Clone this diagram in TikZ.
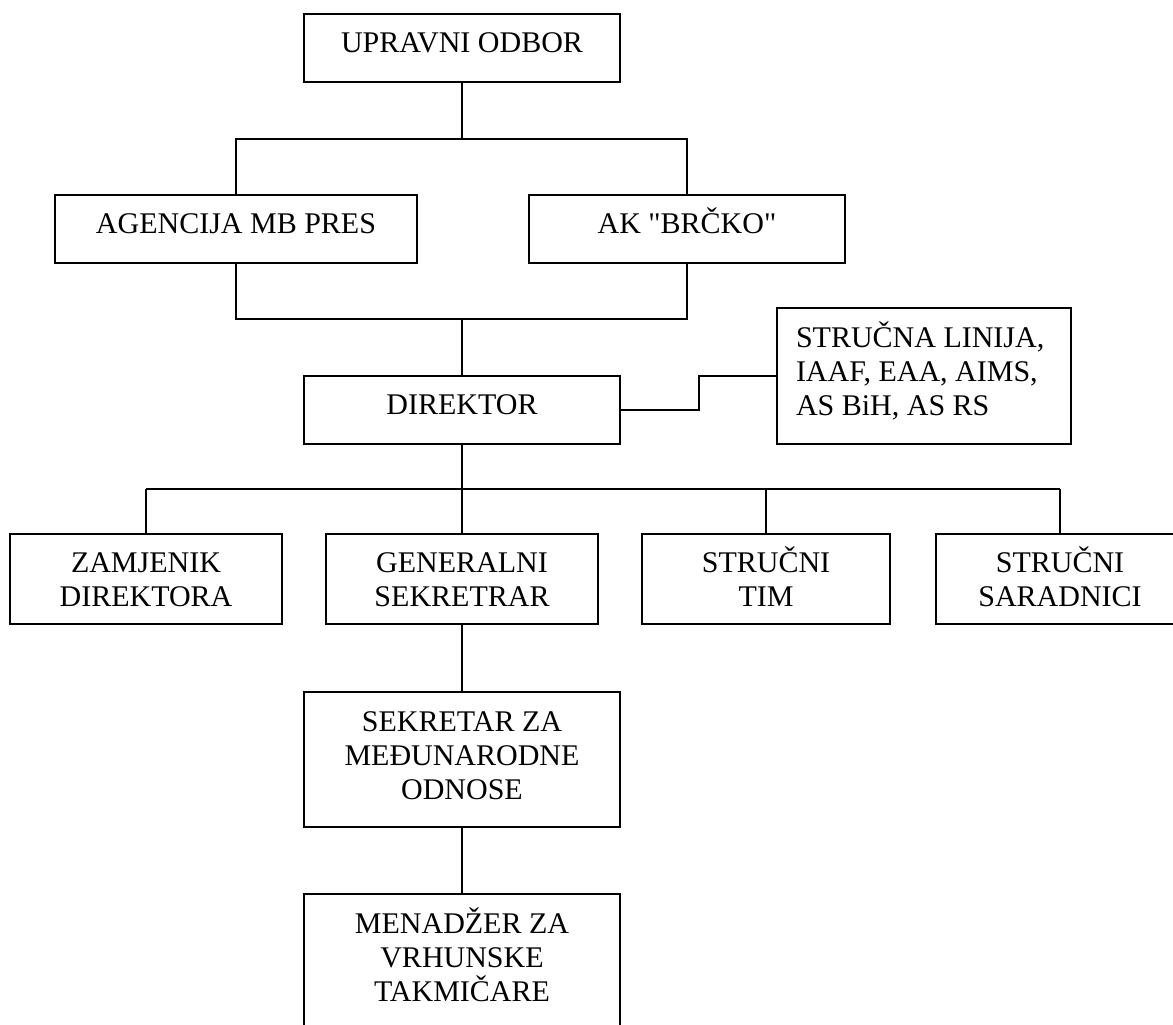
\documentclass[tikz,border=0pt]{standalone}
\usepackage{fontspec}
\setmainfont{Liberation Serif}[Ligatures=TeXOff]
\newcommand\obtxt[4]{\parbox[c][#2pt][t]{#1pt}{\centering\rule{0pt}{#3pt}#4}}
\newcommand\obltxt[4]{\parbox[c][#2pt][t]{#1pt}{\raggedright\leftskip=19pt\rule{0pt}{#3pt}#4}}
\tikzset{
  orgbox/.style={draw, line width=1.9pt, inner sep=0pt, outer sep=0pt, rectangle},
  conn/.style={line width=1.6pt},
  busline/.style={line width=2.2pt},
}
\begin{document}
\begin{tikzpicture}[x=1pt,y=-1pt,font=\fontsize{30}{34.3}\selectfont]
\useasboundingbox (0,0) rectangle (1173,1025);
% boxes
\node[orgbox] (upr) at (462,48) {\obtxt{316}{68}{39}{UPRAVNI ODBOR}};
\node[orgbox] (agen) at (236,229) {\obtxt{362}{68}{38}{AGENCIJA MB PRES}};
\node[orgbox] (ak) at (687,229) {\obtxt{316}{68}{38}{AK "BRČKO"}};
\node[orgbox] (dir) at (462,410) {\obtxt{316}{68}{38}{DIREKTOR}};
\node[orgbox] (str) at (924,376) {\obltxt{294}{136}{39}{STRUČNA LINIJA,\\IAAF, EAA, AIMS,\\AS BiH, AS RS}};
\node[orgbox] (zam) at (146,579) {\obtxt{272}{90}{38}{ZAMJENIK\\DIREKTORA}};
\node[orgbox] (gen) at (462,579) {\obtxt{272}{90}{38}{GENERALNI\\SEKRETRAR}};
\node[orgbox] (tim) at (766,579) {\obtxt{248}{90}{38}{STRUČNI\\TIM}};
\node[orgbox] (sar) at (1060,579) {\obtxt{248}{90}{38}{STRUČNI\\SARADNICI}};
\node[orgbox] (sek) at (462,759.5) {\obtxt{316}{135}{39}{SEKRETAR ZA\\MEĐUNARODNE\\ODNOSE}};
\node[orgbox] (men) at (462,961.5) {\obtxt{316}{135}{39}{MENADŽER ZA\\VRHUNSKE\\TAKMIČARE}};
% junctions
\coordinate (j1) at (462,139);
\coordinate (j2) at (462,319);
\coordinate (k) at (699,410);
\coordinate (j3) at (462,489);
% connectors
\draw[conn] (upr.south) -- (j1);
\draw[conn] (agen.north) |- (j1) -| (ak.north);
\draw[conn] (agen.south) |- (j2) -| (ak.south);
\draw[conn] (j2) -- (dir.north);
\draw[conn] (dir.east) -- (k) |- (str.west);
\draw[busline] (dir.south) -- (j3);
\draw[busline] (zam.north |- j3) -- (sar.north |- j3);
\draw[conn] (zam.north) -- (zam.north |- j3);
\draw[conn] (gen.north) -- (gen.north |- j3);
\draw[conn] (tim.north) -- (tim.north |- j3);
\draw[conn] (sar.north) -- (sar.north |- j3);
\draw[conn] (gen.south) -- (sek.north);
\draw[conn] (sek.south) -- (men.north);
\end{tikzpicture}
\end{document}
